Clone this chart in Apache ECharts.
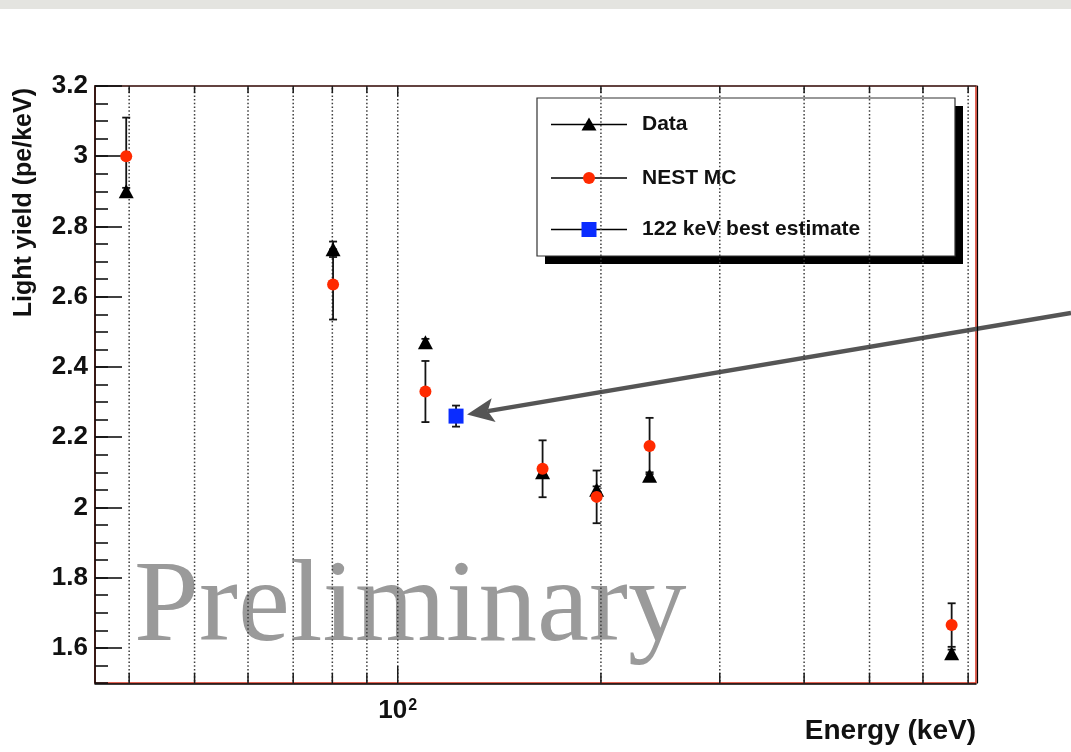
<!DOCTYPE html>
<html>
<head>
<meta charset="utf-8">
<script src="https://cdn.jsdelivr.net/npm/echarts@6/dist/echarts.min.js"></script>
<style>
html, body { margin: 0; padding: 0; background: #fff; }
#chart { width: 1071px; height: 752px; }
</style>
</head>
<body>
<div id="chart"></div>
<script>
// Gamma / neutron-inelastic lines (keV)
const energies = [39.6, 80.2, 109.9, 163.9, 197.1, 236.1, 661.7];
// Measured light yield (pe/keV) and its uncertainty
const dataYield = [2.90, 2.735, 2.47, 2.10, 2.05, 2.09, 1.585];
const dataErr = [0.01, 0.022, 0.01, 0.01, 0.01, 0.01, 0.01];
// NEST Monte Carlo prediction
const nestYield = [3.00, 2.635, 2.33, 2.11, 2.03, 2.175, 1.665];
const nestErr = [0.11, 0.10, 0.087, 0.081, 0.075, 0.08, 0.062];
// 122 keV (57Co) best estimate
const bestEnergy = [122];
const bestYield = [2.26];
const bestErr = [0.03];

const seriesNames = ['Data', 'NEST MC', '122 keV best estimate'];

// Axis ranges and tick values
const xMin = 35.6, xMax = 719;
const yMin = 1.5, yMax = 3.2;
const xGridValues = [40, 50, 60, 70, 80, 90, 100, 200, 300, 400, 500, 600, 700];
const yLabelValues = [1.6, 1.8, 2, 2.2, 2.4, 2.6, 2.8, 3, 3.2];
const yMinorInterval = 0.05;

const FONT = '"Liberation Sans", Arial, Helvetica, sans-serif';
const chart = echarts.init(document.getElementById('chart'));

function errorBars(name, xs, ys, es, z) {
  return {
    type: 'custom', name: name + ' errors', z: z, silent: true,
    xAxisIndex: 0, yAxisIndex: 0,
    data: xs.map((x, i) => [x, ys[i], es[i]]),
    renderItem(params, api) {
      const x = api.value(0), y = api.value(1), e = api.value(2);
      const hi = api.coord([x, y + e]);
      const lo = api.coord([x, y - e]);
      const cap = 4;
      const st = { stroke: '#141414', lineWidth: 1.8 };
      return {
        type: 'group',
        children: [
          { type: 'line', shape: { x1: hi[0], y1: hi[1], x2: lo[0], y2: lo[1] }, style: st },
          { type: 'line', shape: { x1: hi[0] - cap, y1: hi[1], x2: hi[0] + cap, y2: hi[1] }, style: st },
          { type: 'line', shape: { x1: lo[0] - cap, y1: lo[1], x2: lo[0] + cap, y2: lo[1] }, style: st }
        ]
      };
    }
  };
}

// Legend drawn as a framed box with a drop shadow
const legendX = 537, legendY = 98, legendW = 418, legendH = 158;
const legendRows = [124.5, 178, 229.5];
const legendMarkers = [
  (cx, cy) => ({ type: 'polygon', shape: { points: [[cx, cy - 7], [cx + 7.5, cy + 6], [cx - 7.5, cy + 6]] }, style: { fill: '#000' } }),
  (cx, cy) => ({ type: 'circle', shape: { cx: cx, cy: cy, r: 6 }, style: { fill: '#ff2a00' } }),
  (cx, cy) => ({ type: 'rect', shape: { x: cx - 7.5, y: cy - 7.5, width: 15, height: 15 }, style: { fill: '#0a2cff' } })
];
const legendChildren = [
  { type: 'rect', shape: { x: legendX + 8, y: legendY + 8, width: legendW, height: legendH }, style: { fill: '#000' } },
  { type: 'rect', shape: { x: legendX, y: legendY, width: legendW, height: legendH }, style: { fill: '#fff', stroke: '#333', lineWidth: 1.2 } }
];
seriesNames.forEach((name, i) => {
  const cy = legendRows[i];
  legendChildren.push({ type: 'line', shape: { x1: 551, y1: cy, x2: 627, y2: cy }, style: { stroke: '#000', lineWidth: 1.5 } });
  legendChildren.push(legendMarkers[i](589, cy));
  legendChildren.push({
    type: 'text', x: 642, y: cy,
    style: { text: name, font: 'bold 21px ' + FONT, fill: '#111', verticalAlign: 'middle', align: 'left' }
  });
});

const option = {
  backgroundColor: '#fff',
  animation: false,
  grid: {
    left: 95, right: 95, top: 86, bottom: 69,
    show: true, borderColor: '#d8301c', borderWidth: 1.5, backgroundColor: 'transparent'
  },
  xAxis: [
    {
      type: 'log', logBase: 10, min: xMin, max: xMax, position: 'bottom', offset: 1,
      name: 'Energy (keV)', nameLocation: 'end', nameGap: 0,
      nameTextStyle: {
        fontFamily: FONT, fontWeight: 'bold', fontSize: 28, color: '#111',
        align: 'right', verticalAlign: 'top', padding: [33, 0, 0, 0]
      },
      axisLine: { show: true, lineStyle: { color: '#000', width: 1.5 } },
      axisTick: { show: false },
      splitLine: { show: false },
      minorTick: { show: false },
      axisLabel: {
        margin: 14,
        formatter: v => (Math.abs(v - 100) < 1e-6 ? '{b|10}{s|2}' : ''),
        rich: {
          b: { fontFamily: FONT, fontWeight: 'bold', fontSize: 26, color: '#111' },
          s: { fontFamily: FONT, fontWeight: 'bold', fontSize: 16, color: '#111', verticalAlign: 'top', padding: [0, 0, 0, 1] }
        }
      }
    },
    {
      type: 'log', logBase: 10, min: xMin, max: xMax, position: 'top',
      axisLine: { show: true, lineStyle: { color: '#3a3a3a', width: 1.5 } },
      axisTick: { show: false }, axisLabel: { show: false }, splitLine: { show: false }
    }
  ],
  yAxis: [
    {
      type: 'value', min: yMin, max: yMax, position: 'left',
      name: 'Light yield (pe/keV)', nameLocation: 'end', nameGap: -2, nameRotate: 90,
      nameTextStyle: {
        fontFamily: FONT, fontWeight: 'bold', fontSize: 25, color: '#111',
        align: 'right', verticalAlign: 'bottom', padding: [0, 0, 58, 0]
      },
      axisLine: { show: true, lineStyle: { color: '#000', width: 1.5 } },
      axisTick: { show: true, inside: true, length: 27, customValues: yLabelValues, lineStyle: { color: '#111', width: 1.6 } },
      axisLabel: {
        customValues: yLabelValues, margin: 7,
        fontFamily: FONT, fontWeight: 'bold', fontSize: 26, color: '#111',
        formatter: v => String(v)
      },
      splitLine: { show: false }
    },
    {
      type: 'value', min: yMin, max: yMax, interval: yMinorInterval, position: 'left',
      axisLine: { show: false },
      axisTick: { show: true, inside: true, length: 13, lineStyle: { color: '#111', width: 1.6 } },
      axisLabel: { show: false },
      splitLine: { show: false }
    },
    {
      type: 'value', min: yMin, max: yMax, position: 'right', offset: 1,
      axisLine: { show: true, lineStyle: { color: '#000', width: 1.2 } },
      axisTick: { show: false }, axisLabel: { show: false }, splitLine: { show: false }
    }
  ],
  series: [
    // Dotted vertical grid lines with their axis ticks (bottom and top)
    {
      type: 'custom', z: 1, silent: true, xAxisIndex: 0, yAxisIndex: 0,
      data: xGridValues.map(v => [v, yMin]),
      renderItem(params, api) {
        const v = api.value(0);
        const x = api.coord([v, yMin])[0];
        const cs = params.coordSys;
        const top = cs.y, bot = cs.y + cs.height;
        const major = Math.abs(v - 100) < 1e-6;
        const tick = { stroke: '#1a1a1a', lineWidth: 1.5 };
        return {
          type: 'group',
          children: [
            { type: 'line', shape: { x1: x, y1: top + 2, x2: x, y2: bot }, style: { stroke: '#3c3c3c', lineWidth: 1.5, lineDash: [1.5, 2.2] } },
            { type: 'line', shape: { x1: x, y1: bot, x2: x, y2: bot - (major ? 17 : 10) }, style: tick },
            { type: 'line', shape: { x1: x, y1: top, x2: x, y2: top + (major ? 10 : 7) }, style: tick }
          ]
        };
      }
    },
    errorBars(seriesNames[0], energies, dataYield, dataErr, 3),
    errorBars(seriesNames[1], energies, nestYield, nestErr, 3),
    errorBars(seriesNames[2], bestEnergy, bestYield, bestErr, 3),
    {
      name: seriesNames[0], type: 'scatter', z: 4, silent: true,
      symbol: 'triangle', symbolSize: [15, 14],
      itemStyle: { color: '#000', opacity: 1 },
      data: energies.map((x, i) => [x, dataYield[i]])
    },
    {
      name: seriesNames[1], type: 'scatter', z: 5, silent: true,
      symbol: 'circle', symbolSize: 12,
      itemStyle: { color: '#ff2a00', opacity: 1 },
      data: energies.map((x, i) => [x, nestYield[i]])
    },
    {
      name: seriesNames[2], type: 'scatter', z: 5, silent: true,
      symbol: 'rect', symbolSize: 15,
      itemStyle: { color: '#0a2cff', opacity: 1 },
      data: bestEnergy.map((x, i) => [x, bestYield[i]])
    }
  ]
};

chart.setOption(option);

// Arrow pointing at the 122 keV estimate
const p = chart.convertToPixel({ xAxisIndex: 0, yAxisIndex: 0 }, [bestEnergy[0], bestYield[0]]);
const tip = [p[0] + 11, p[1] - 1.5];
const tail = [1071, 313];
const dx = tail[0] - tip[0], dy = tail[1] - tip[1];
const L = Math.hypot(dx, dy);
const u = [dx / L, dy / L];
const n = [-u[1], u[0]];
const headLen = 27, headHalf = 12, notch = 6;
const base = [tip[0] + u[0] * headLen, tip[1] + u[1] * headLen];
const inner = [tip[0] + u[0] * (headLen - notch), tip[1] + u[1] * (headLen - notch)];

chart.setOption({
  graphic: [
    { type: 'rect', z: 0, silent: true, shape: { x: 0, y: 0, width: 1071, height: 9 }, style: { fill: '#e4e4e0' } },
    {
      type: 'text', z: 0, silent: true, x: 134, y: 609,
      style: { text: 'Preliminary', font: '117px "Liberation Serif", "Times New Roman", serif', fill: '#9a9a9a', verticalAlign: 'middle', align: 'left' }
    },
    { type: 'group', z: 10, silent: true, children: legendChildren },
    {
      type: 'group', z: 20, silent: true,
      children: [
        { type: 'line', shape: { x1: inner[0], y1: inner[1], x2: tail[0], y2: tail[1] }, style: { stroke: '#555', lineWidth: 4.5 } },
        {
          type: 'polygon',
          shape: { points: [tip, [base[0] + n[0] * headHalf, base[1] + n[1] * headHalf], inner, [base[0] - n[0] * headHalf, base[1] - n[1] * headHalf]] },
          style: { fill: '#555' }
        }
      ]
    }
  ]
});
</script>
</body>
</html>
